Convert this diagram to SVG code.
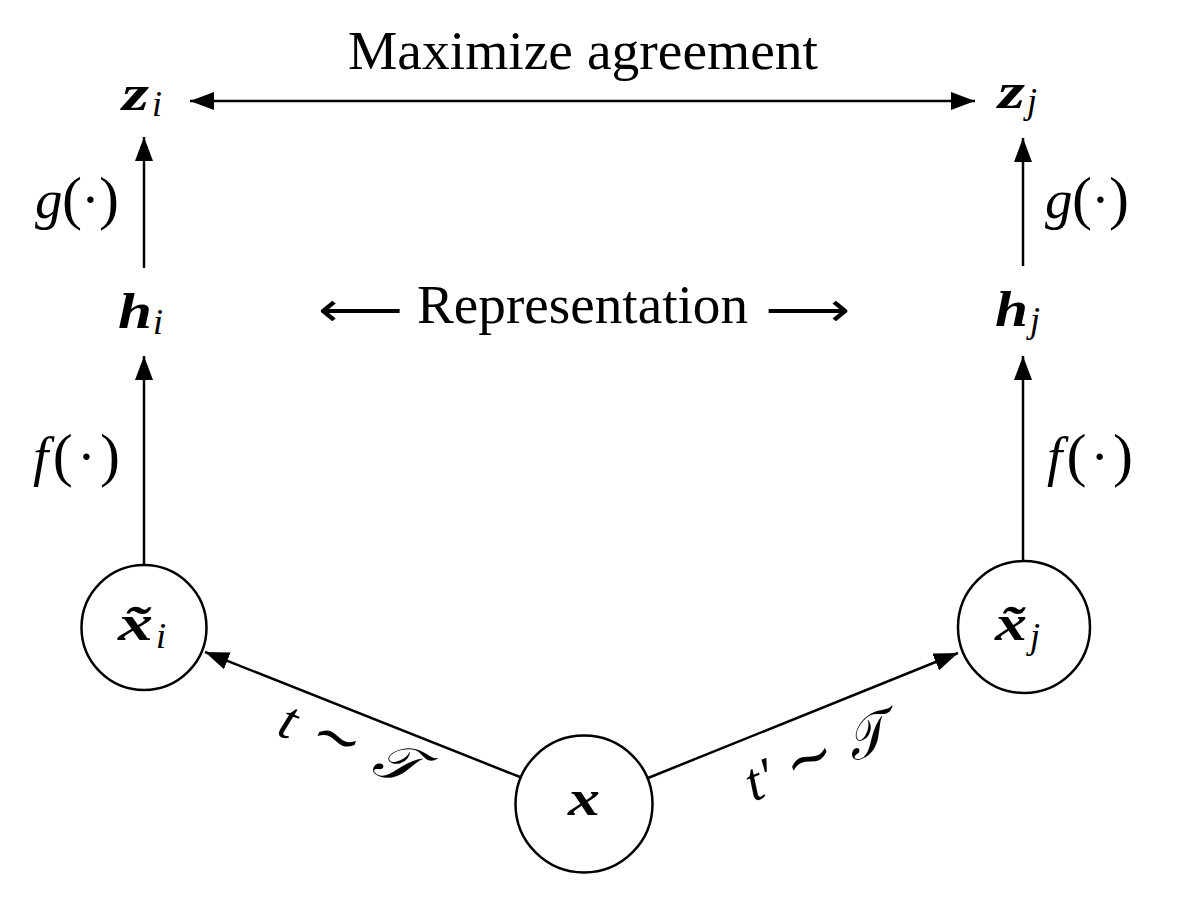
<svg xmlns="http://www.w3.org/2000/svg" width="1200" height="900" viewBox="0 0 1200 900">
<defs>
<marker id="ah" viewBox="0 0 24 18" refX="24" refY="9" markerWidth="24" markerHeight="18" markerUnits="userSpaceOnUse" orient="auto-start-reverse"><path d="M0,0 L24,9 L0,18 Z" fill="#000"/></marker>
</defs>
<style>
.edge{stroke:#000;stroke-width:2.5;fill:none;marker-end:url(#ah)}
.ring{stroke:#000;stroke-width:2.5;fill:#fff}
.rm{font-family:"Liberation Serif","DejaVu Serif",serif;font-size:55px;fill:#000}
.mi{font-family:"Liberation Serif","DejaVu Serif",serif;font-style:italic;font-size:55px;fill:#000}
.bv{font-family:"Liberation Serif","DejaVu Serif",serif;font-style:italic;font-weight:bold;font-size:50px;fill:#000}
.sub{font-family:"Liberation Serif","DejaVu Serif",serif;font-style:italic;font-size:36px;fill:#000}
.arr{font-family:"DejaVu Sans",sans-serif;font-size:48px;fill:#000}
.par{font-size:60px}
.sim{font-size:60px}
</style>
<rect width="1200" height="900" fill="#fff"/>
<g id="connectors">
<line class="edge" x1="190" y1="101" x2="975" y2="101" style="marker-start:url(#ah)"/>
<line class="edge" x1="144" y1="268" x2="144" y2="137"/>
<line class="edge" x1="1023" y1="266" x2="1023" y2="138"/>
<line class="edge" x1="144" y1="565" x2="144" y2="356"/>
<line class="edge" x1="1023" y1="561" x2="1023" y2="356"/>
<line class="edge" x1="520" y1="777" x2="205" y2="652"/>
<line class="edge" x1="648" y1="778" x2="958" y2="653"/>
</g>
<g id="labels">
<text class="rm" x="583" y="69" text-anchor="middle" textLength="470" lengthAdjust="spacingAndGlyphs">Maximize agreement</text>
<text class="arr" x="318" y="326" textLength="85" lengthAdjust="spacingAndGlyphs">⟵</text>
<text class="rm" x="582.5" y="323" text-anchor="middle" textLength="331" lengthAdjust="spacingAndGlyphs">Representation</text>
<text class="arr" x="765" y="326" textLength="85" lengthAdjust="spacingAndGlyphs">⟶</text>
<text class="rm" x="35" y="218" textLength="84" lengthAdjust="spacing"><tspan class="mi">g</tspan><tspan class="par">(</tspan>·<tspan class="par">)</tspan></text>
<text class="rm" x="1045" y="218" textLength="84" lengthAdjust="spacing"><tspan class="mi">g</tspan><tspan class="par">(</tspan>·<tspan class="par">)</tspan></text>
<text class="rm" x="33" y="475" textLength="87" lengthAdjust="spacing"><tspan class="mi">f</tspan><tspan class="par">(</tspan>·<tspan class="par">)</tspan></text>
<text class="rm" x="1047" y="475" textLength="86" lengthAdjust="spacing"><tspan class="mi">f</tspan><tspan class="par">(</tspan>·<tspan class="par">)</tspan></text>
<text class="mi" transform="translate(347,749) rotate(21.8)" x="0" y="13" text-anchor="middle" textLength="144" lengthAdjust="spacing">t <tspan class="sim">∼</tspan> 𝒯</text>
<text class="mi" transform="translate(818,762) rotate(-21.9)" x="0" y="13" text-anchor="middle" textLength="150" lengthAdjust="spacing">t′ <tspan class="sim">∼</tspan> 𝒯</text>
</g>
<g id="node-zi">
<text class="bv" x="122" y="110" textLength="27" lengthAdjust="spacingAndGlyphs">z</text>
<text class="sub" x="152" y="116">i</text>
</g>
<g id="node-zj">
<text class="bv" x="998" y="108" textLength="27" lengthAdjust="spacingAndGlyphs">z</text>
<text class="sub" x="1027" y="113">j</text>
</g>
<g id="node-hi">
<text class="bv" x="118" y="328" textLength="34" lengthAdjust="spacingAndGlyphs">h</text>
<text class="sub" x="153" y="334">i</text>
</g>
<g id="node-hj">
<text class="bv" x="995" y="326" textLength="33" lengthAdjust="spacingAndGlyphs">h</text>
<text class="sub" x="1030" y="332">j</text>
</g>
<g id="node-xti">
<circle class="ring" cx="144" cy="627.5" r="62.5"/>
<text class="bv" x="118" y="640" textLength="35" lengthAdjust="spacingAndGlyphs">x̃</text>
<text class="sub" x="156" y="648">i</text>
</g>
<g id="node-xtj">
<circle class="ring" cx="1024" cy="627" r="66"/>
<text class="bv" x="995" y="640" textLength="32" lengthAdjust="spacingAndGlyphs">x̃</text>
<text class="sub" x="1030" y="648">j</text>
</g>
<g id="node-x">
<circle class="ring" cx="584" cy="804" r="68.5"/>
<text class="bv" x="568" y="815" textLength="32" lengthAdjust="spacingAndGlyphs">x</text>
</g>
</svg>
